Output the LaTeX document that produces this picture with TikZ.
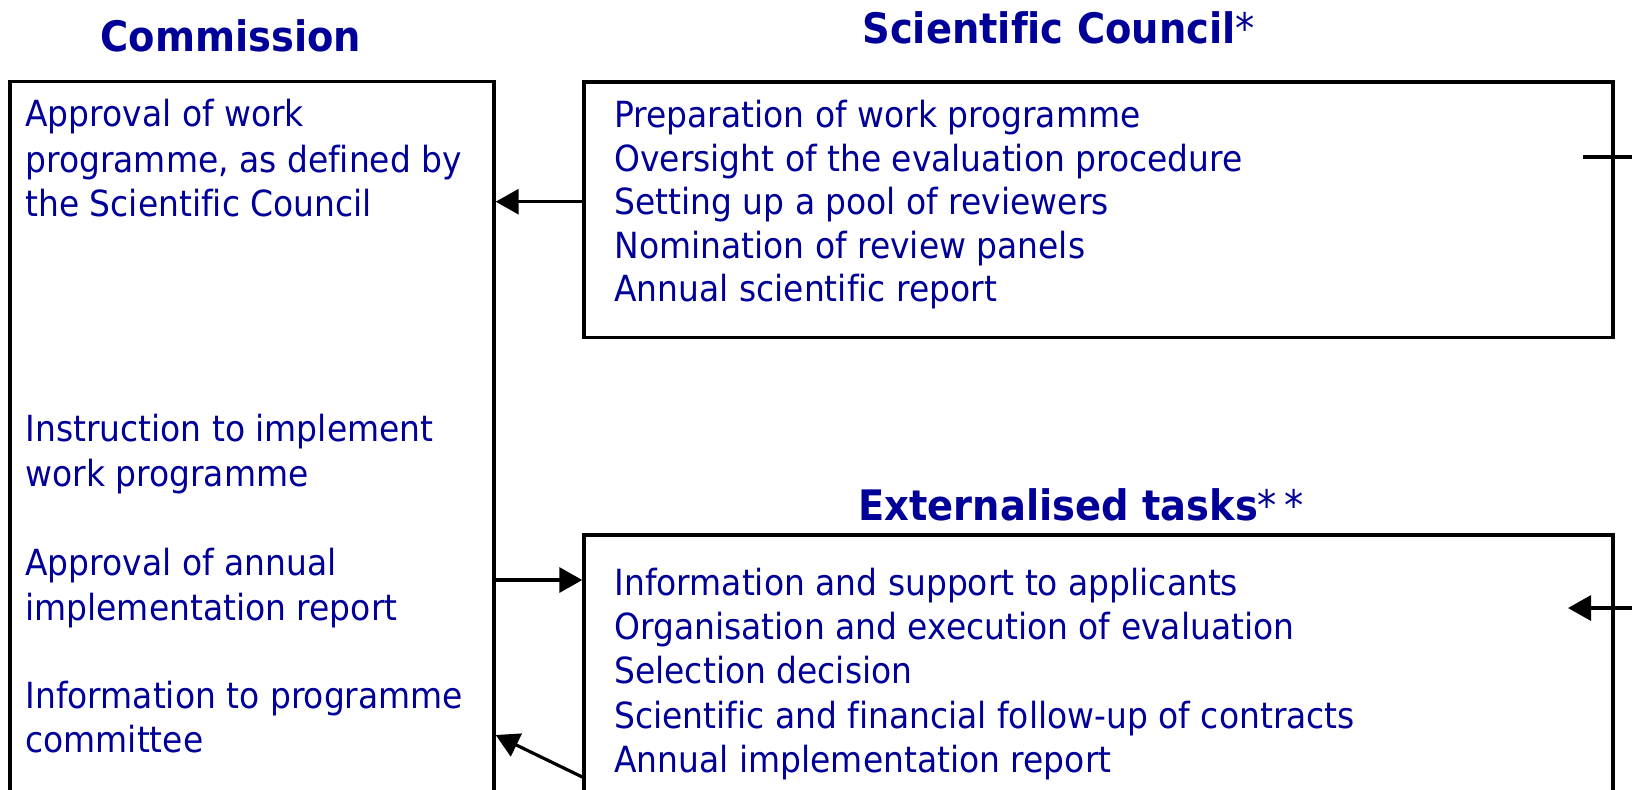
\documentclass[tikz,border=0pt]{standalone}
\usepackage{fontspec}
\setmainfont{DejaVu Sans}[FakeStretch=0.915,Ligatures=NoCommon]
\usetikzlibrary{arrows.meta,fit}
\definecolor{navy}{RGB}{0,0,153}
\begin{document}
\begin{tikzpicture}[x=0.5pt,y=-0.5pt,
  box/.style={draw=black, line width=1.7pt, inner sep=0pt},
  txt/.style={anchor=base west, inner sep=0pt, text=navy, font=\fontsize{18pt}{22pt}\selectfont},
  ttl/.style={anchor=base, inner sep=0pt, text=navy, font=\fontsize{21pt}{25pt}\selectfont\bfseries},
  arr/.style={line width=1.6pt, -{Triangle[length=11.5pt,width=12.5pt]}}]
\useasboundingbox (0,0) rectangle (1632,789);
\clip (0,0) rectangle (1632,789);
% boxes
\node[box, fit={(10,81.5)(494,900)}] (comm) {};
\node[box, fit={(584,82)(1613,337.5)}] (sc) {};
\node[box, fit={(584,535)(1613,900)}] (et) {};
% titles
\node[ttl] (tcomm) at (231,51.7) {Commission};
\node[ttl, anchor=base west] (tsc) at (862,43.3) {Scientific Council\textmd{*}};
\node[ttl, anchor=base west] (tet) at (858,520) {Externalised tasks\textmd{*\,*}};
% commission texts
\node[txt] (c1) at (25,126.7) {Approval of work};
\node[txt] (c2) at (25,172) {programme, as defined by};
\node[txt] (c3) at (25,216.7) {the Scientific Council};
\node[txt] (c4) at (25,441.7) {Instruction to implement};
\node[txt] (c5) at (25,486) {work programme};
\node[txt] (c6) at (25,575) {Approval of annual};
\node[txt] (c7) at (25,620) {implementation report};
\node[txt] (c8) at (25,708) {Information to programme};
\node[txt] (c9) at (25,752.7) {committee};
% scientific council texts
\node[txt] (s1) at (614,127.5) {Preparation of work programme};
\node[txt] (s2) at (614,171.1) {Oversight of the evaluation procedure};
\node[txt] (s3) at (614,214.7) {Setting up a pool of reviewers};
\node[txt] (s4) at (614,258.3) {Nomination of review panels};
\node[txt] (s5) at (614,301.9) {Annual scientific report};
% externalised tasks texts
\node[txt] (e1) at (614,595) {Information and support to applicants};
\node[txt] (e2) at (614,639.3) {Organisation and execution of evaluation};
\node[txt] (e3) at (614,683.3) {Selection decision};
\node[txt] (e4) at (614,728.3) {Scientific and financial follow-up of contracts};
\node[txt] (e5) at (614,772.3) {Annual implementation report};
% connectors
\draw[arr] (sc.west |- 0,201.7) -- (comm.east |- 0,201.7);
\draw[arr] (comm.east |- 0,580) -- (et.west |- 0,580);
\draw[arr] (et.west |- 0,777) -- (comm.east |- 0,735);
\coordinate (r1) at (1583,157);
\coordinate (r3) at (1568,608);
\draw[arr] (r1) -- ++(100,0) |- (r3);
\end{tikzpicture}
\end{document}
